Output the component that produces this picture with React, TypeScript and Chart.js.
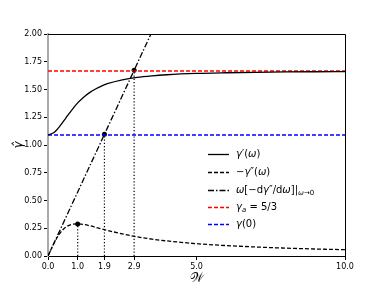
import React, { useEffect, useRef } from "react";
import { Chart, registerables } from "chart.js";

Chart.register(...registerables);

// ---- data ----
const OMEGA = [0, 0.2, 0.4, 0.6, 0.8, 1.0, 1.2, 1.4, 1.6, 1.8, 2.0, 2.5, 3, 3.5, 4, 5, 6, 7, 8, 9, 10];
const GAMMA_P = [1.090, 1.112, 1.170, 1.243, 1.315, 1.379, 1.431, 1.472, 1.505, 1.531, 1.552, 1.587, 1.609, 1.623, 1.633, 1.645, 1.651, 1.655, 1.658, 1.660, 1.661];
const GAMMA_PP = [0, 0.113, 0.205, 0.260, 0.284, 0.289, 0.284, 0.273, 0.259, 0.245, 0.231, 0.199, 0.173, 0.152, 0.136, 0.111, 0.094, 0.081, 0.071, 0.063, 0.057];
const TANGENT_X = [0, 4];
const TANGENT_Y = [0, 2.308];
const GAMMA_A = 5 / 3;
const GAMMA_0 = 1.09;
const HLINE_X = [0, 10];
const MARK_X = [1.0, 1.9, 2.9];
const MARK_Y = [0.289, 1.096, 1.673];
const X_TICKS = [0, 1.0, 1.9, 2.9, 5.0, 10.0];
const Y_TICKS = [0, 0.25, 0.5, 0.75, 1.0, 1.25, 1.5, 1.75, 2.0];

type Seg = { t: string; it?: boolean; sub?: boolean };

const FONT = "'DejaVu Sans'";

function drawRich(ctx: CanvasRenderingContext2D, x: number, y: number, segs: Seg[]) {
  let cx = x;
  for (const s of segs) {
    const size = s.sub ? 7 : 10;
    ctx.font = `${s.it ? "italic " : ""}${size}px ${FONT}`;
    ctx.fillText(s.t, cx, s.sub ? y + 3 : y);
    cx += ctx.measureText(s.t).width;
  }
}

const legendItems: { color: string; dash: number[]; segs: Seg[] }[] = [
  { color: "#000", dash: [], segs: [{ t: "γ", it: true }, { t: "′(" }, { t: "ω", it: true }, { t: ")" }] },
  { color: "#000", dash: [4, 2], segs: [{ t: "−" }, { t: "γ", it: true }, { t: "″(" }, { t: "ω", it: true }, { t: ")" }] },
  {
    color: "#000",
    dash: [6, 2, 1.5, 2],
    segs: [
      { t: "ω", it: true }, { t: "[−d" }, { t: "γ", it: true }, { t: "″/d" }, { t: "ω", it: true }, { t: "]|" },
      { t: "ω", it: true, sub: true }, { t: "→0", sub: true },
    ],
  },
  { color: "#ff0000", dash: [4, 2], segs: [{ t: "γ", it: true }, { t: "a", it: true, sub: true }, { t: " = 5/3" }] },
  { color: "#0000ff", dash: [4, 2], segs: [{ t: "γ", it: true }, { t: "(0)" }] },
];

const framePlugin = {
  id: "frameAndLegend",
  afterDraw(chart: any) {
    const { ctx, chartArea } = chart;
    ctx.save();
    ctx.strokeStyle = "#000";
    ctx.lineWidth = 1;
    ctx.beginPath();
    ctx.moveTo(chartArea.left, chartArea.top + 0.5);
    ctx.lineTo(chartArea.right + 0.5, chartArea.top + 0.5);
    ctx.lineTo(chartArea.right + 0.5, chartArea.bottom);
    ctx.stroke();

    // legend
    const rows = [154, 172, 190, 207, 224];
    legendItems.forEach((item, i) => {
      const y = rows[i];
      ctx.strokeStyle = item.color;
      ctx.lineWidth = 1.3;
      ctx.setLineDash(item.dash);
      ctx.beginPath();
      ctx.moveTo(208, y + 0.5);
      ctx.lineTo(229, y + 0.5);
      ctx.stroke();
      ctx.setLineDash([]);
      ctx.fillStyle = "#000";
      ctx.textBaseline = "middle";
      ctx.textAlign = "left";
      drawRich(ctx, 236, y, item.segs);
    });
    ctx.restore();
  },
};

const pts = (xs: number[], ys: number[]) => xs.map((x, i) => ({ x, y: ys[i] }));

export default function App() {
  const ref = useRef<HTMLCanvasElement>(null);
  useEffect(() => {
    if (!ref.current) return;
    const dotted = [1.2, 2];
    const datasets: any[] = [
      {
        label: "gp",
        data: pts(OMEGA, GAMMA_P),
        borderColor: "#000",
        borderWidth: 1.3,
        pointRadius: 0,
        cubicInterpolationMode: "monotone",
      },
      {
        label: "gpp",
        data: pts(OMEGA, GAMMA_PP),
        borderColor: "#000",
        borderWidth: 1.3,
        borderDash: [4, 2],
        pointRadius: 0,
        cubicInterpolationMode: "monotone",
      },
      {
        label: "tangent",
        data: pts(TANGENT_X, TANGENT_Y),
        borderColor: "#000",
        borderWidth: 1.3,
        borderDash: [6, 2, 1.5, 2],
        pointRadius: 0,
      },
      {
        label: "ga",
        data: pts(HLINE_X, HLINE_X.map(() => GAMMA_A)),
        borderColor: "#ff0000",
        borderWidth: 1.3,
        borderDash: [4, 2],
        pointRadius: 0,
      },
      {
        label: "g0",
        data: pts(HLINE_X, HLINE_X.map(() => GAMMA_0)),
        borderColor: "#0000ff",
        borderWidth: 1.3,
        borderDash: [4, 2],
        pointRadius: 0,
      },
    ];
    MARK_X.forEach((mx, i) => {
      datasets.push({
        label: "v" + i,
        data: pts([mx, mx], [0, MARK_Y[i]]),
        borderColor: "#000",
        borderWidth: 1.2,
        borderDash: dotted,
        pointRadius: 0,
      });
    });
    datasets.push({
      label: "marks",
      data: pts(MARK_X, MARK_Y),
      showLine: false,
      pointRadius: 2.5,
      pointBackgroundColor: "#000",
      pointBorderColor: "#000",
      borderWidth: 0,
    });

    const chart = new Chart(ref.current, {
      type: "line",
      data: { datasets },
      plugins: [framePlugin],
      options: {
        responsive: false,
        animation: false,
        events: [],
        layout: { padding: { left: 0, right: 39, top: 34, bottom: 0 } },
        plugins: { legend: { display: false }, tooltip: { enabled: false } },
        scales: {
          x: {
            type: "linear",
            min: 0,
            max: 10,
            afterFit: (s: any) => { s.height = 32; },
            afterBuildTicks: (s: any) => { s.ticks = X_TICKS.map((v) => ({ value: v })); },
            ticks: {
              autoSkip: false,
              maxRotation: 0,
              padding: 2,
              color: "#000",
              font: { family: FONT, size: 8 },
              callback: (v: any) => Number(v).toFixed(1),
            },
            grid: { drawOnChartArea: false, drawTicks: true, tickLength: 4, color: "#000" },
            border: { color: "#000", width: 1 },
            title: {
              display: true,
              text: "𝒲",
              color: "#000",
              font: { family: FONT, size: 13 },
              padding: { top: 0, bottom: 2 },
            },
          },
          y: {
            type: "linear",
            min: 0,
            max: 2,
            afterFit: (s: any) => { s.width = 48; },
            afterBuildTicks: (s: any) => { s.ticks = Y_TICKS.map((v) => ({ value: v })); },
            ticks: {
              padding: 2,
              color: "#000",
              font: { family: FONT, size: 8 },
              callback: (v: any) => Number(v).toFixed(2),
            },
            grid: { drawOnChartArea: false, drawTicks: true, tickLength: 4, color: "#000" },
            border: { color: "#aaaaaa", width: 2 },
            title: {
              display: true,
              text: "γ̂",
              color: "#000",
              font: { family: FONT, size: 12, style: "italic" },
              padding: { top: 12, bottom: 0 },
            },
          },
        },
      },
    } as any);
    return () => chart.destroy();
  }, []);

  return (
    <div style={{ position: "absolute", left: 0, top: 0, width: 384, height: 288, background: "#fff" }}>
      <canvas ref={ref} width={384} height={288} />
    </div>
  );
}
